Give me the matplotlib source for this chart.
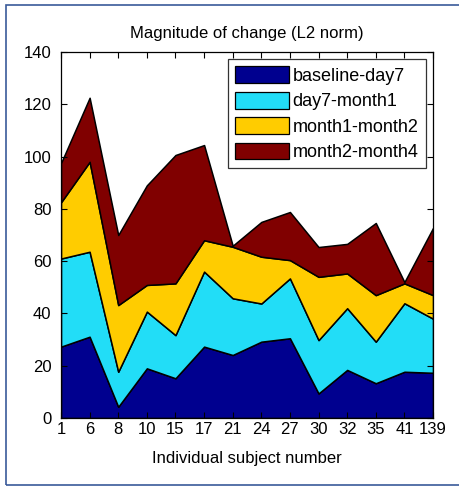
import matplotlib
matplotlib.use("Agg")
import matplotlib.pyplot as plt
from matplotlib.patches import Rectangle

# Subjects on the x axis and the change per interval (stacked)
subjects = ["1", "6", "8", "10", "15", "17", "21", "24", "27", "30", "32", "35", "41", "139"]
baseline_day7 = [27.3, 31.1, 4.3, 19.0, 15.2, 27.3, 24.1, 29.2, 30.5, 9.4, 18.4, 13.3, 17.7, 17.3]
day7_month1 = [33.7, 32.5, 13.4, 21.7, 16.5, 28.7, 21.7, 14.6, 22.9, 20.4, 23.6, 15.9, 26.2, 20.7]
month1_month2 = [21.5, 34.4, 25.5, 10.2, 19.8, 12.0, 19.7, 17.9, 7.0, 24.2, 13.3, 17.8, 7.6, 9.0]
month2_month4 = [15.0, 24.5, 26.8, 38.1, 49.1, 36.4, 0.4, 13.3, 18.4, 11.4, 11.3, 27.6, 0.5, 25.7]
series_labels = ["baseline-day7", "day7-month1", "month1-month2", "month2-month4"]
colours = ["#00008F", "#22DDF7", "#FFCC00", "#800000"]

plt.rcParams["font.family"] = ["Liberation Sans", "DejaVu Sans"]

fig = plt.figure(figsize=(4.59, 4.86), dpi=100)
ax = fig.add_axes([0.1329, 0.1399, 0.8105, 0.7531])

x = list(range(1, len(subjects) + 1))
ax.stackplot(x, baseline_day7, day7_month1, month1_month2, month2_month4,
             labels=series_labels, colors=colours,
             edgecolor="black", linewidth=1.1)

ax.set_xlim(1, len(subjects))
ax.set_ylim(0, 140)
ax.set_xticks(x)
ax.set_xticklabels(subjects)
ax.set_yticks(range(0, 141, 20))
ax.tick_params(direction="in", top=True, right=True, length=4, width=0.8,
               labelsize=12)
ax.tick_params(axis="x", pad=3)
ax.tick_params(axis="y", pad=7)
for side in ax.spines.values():
    side.set_linewidth(0.9)

ax.set_title("Magnitude of change (L2 norm)", fontsize=12, pad=10)
ax.set_xlabel("Individual subject number", fontsize=12, labelpad=10)

leg = ax.legend(loc="upper right", fontsize=13, frameon=True, fancybox=False,
                edgecolor="black", handlelength=3.0, handleheight=1.05,
                handletextpad=0.2, labelspacing=0.38, borderpad=0.4,
                borderaxespad=0.4)
leg.get_frame().set_linewidth(0.9)
for h in leg.legend_handles:
    h.set_edgecolor("black")
    h.set_linewidth(0.9)

# slide frame around the figure
fig.patches.append(Rectangle((6 / 459, 1 / 486), 1.2, 480 / 486,
                             transform=fig.transFigure, fill=False,
                             edgecolor="#3A5A9A", linewidth=1.2))

fig.savefig("out.png", dpi=100)
